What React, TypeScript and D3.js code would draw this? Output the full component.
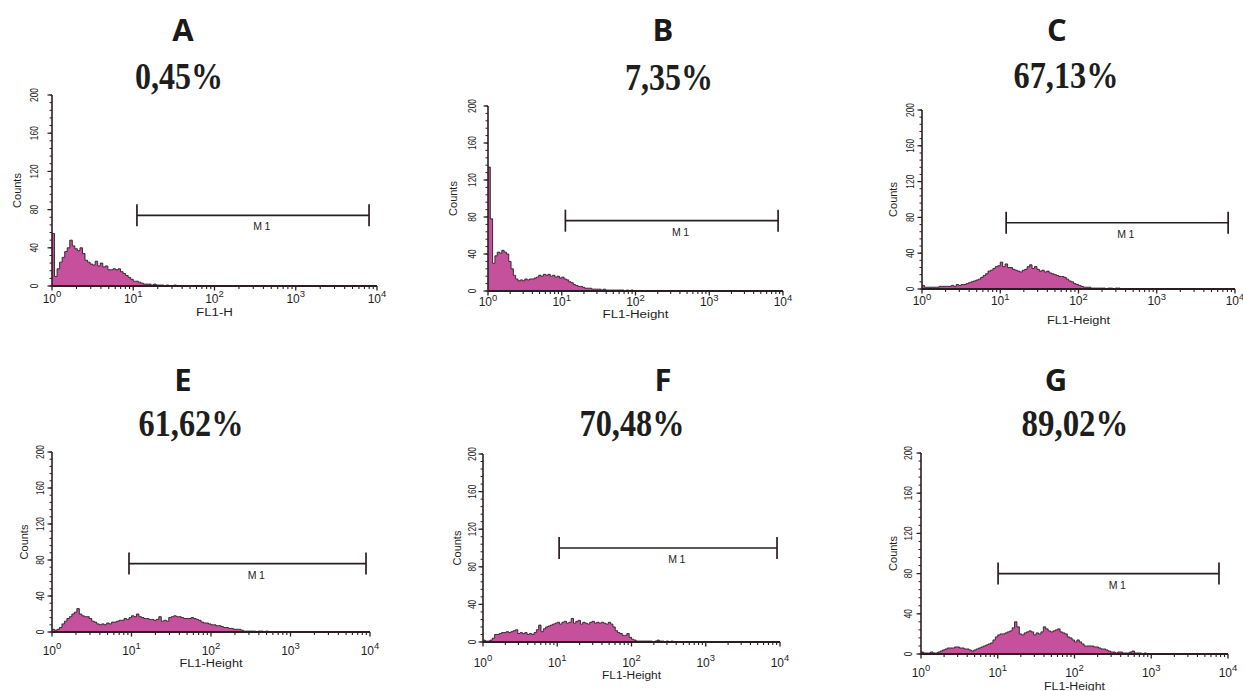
import React from 'react';
import * as d3 from 'd3';

// panel identity
const panelLetters = ['A', 'B', 'C', 'E', 'F', 'G'];
const percentLabels = ['0,45%', '7,35%', '67,13%', '61,62%', '70,48%', '89,02%'];
const xAxisLabels = ['FL1-H', 'FL1-Height', 'FL1-Height', 'FL1-Height', 'FL1-Height', 'FL1-Height'];

// axes
const yTicks = [0, 40, 80, 120, 160, 200];
const xTicks = [1, 10, 100, 1000, 10000];

// M1 gate (FL1 start, FL1 end, count level)
const gateStart = [11.1, 11.2, 11.9, 9.3, 10.6, 10.1];
const gateEnd = [7980, 8580, 8170, 8910, 9120, 7630];
const gateLevel = [74, 76, 74, 76, 100, 80];

// histogram counts, 32 channels per decade starting at 10^0
const countsA = [55, 10, 18, 25, 30, 36, 40, 48, 42, 39, 37, 40, 34, 27, 25, 23, 22, 26, 21, 24, 20, 21, 17, 17, 18, 17, 18, 15, 13, 11, 9, 7, 5, 5, 4, 3, 2, 2, 2, 1, 2, 1, 1, 1, 0, 1, 0, 0, 1];
const countsB = [134, 78, 30, 38, 42, 41, 44, 42, 40, 32, 24, 17, 13, 11, 12, 11, 13, 12, 13, 13, 14, 15, 17, 16, 18, 17, 18, 16, 17, 15, 16, 14, 15, 13, 12, 10, 9, 7, 6, 5, 5, 4, 3, 3, 3, 2, 2, 2, 2, 1, 2, 1, 1, 1, 1, 1, 1, 1, 1, 0, 1, 0, 1];
const countsC = [4, 2, 2, 2, 2, 2, 2, 3, 3, 3, 3, 3, 4, 3, 5, 4, 5, 5, 6, 7, 8, 9, 10, 11, 13, 15, 17, 20, 21, 23, 25, 26, 30, 25, 28, 24, 24, 22, 21, 20, 19, 21, 22, 25, 27, 23, 25, 22, 20, 21, 19, 20, 18, 17, 16, 15, 14, 14, 13, 11, 9, 8, 6, 5, 4, 3, 2, 2, 2, 1, 1, 1, 1, 1, 1, 0, 1, 1, 0, 1, 1];
const countsE = [3, 2, 3, 5, 9, 12, 15, 17, 20, 22, 26, 20, 18, 17, 17, 15, 12, 11, 9, 8, 9, 8, 10, 9, 11, 11, 12, 13, 13, 15, 14, 16, 18, 17, 20, 17, 16, 15, 15, 14, 14, 13, 14, 17, 12, 13, 12, 16, 17, 18, 17, 17, 16, 15, 15, 15, 16, 15, 14, 13, 11, 10, 10, 9, 8, 8, 7, 7, 6, 5, 5, 4, 4, 3, 3, 3, 2, 1, 1, 1, 1, 1, 0, 1, 1, 0, 1];
const countsF = [2, 1, 1, 2, 4, 8, 8, 9, 10, 10, 11, 10, 11, 12, 13, 9, 10, 9, 10, 8, 9, 8, 10, 13, 18, 11, 14, 16, 17, 18, 19, 20, 21, 19, 21, 22, 20, 21, 25, 20, 22, 23, 19, 21, 20, 19, 21, 22, 20, 21, 20, 21, 20, 19, 21, 19, 16, 12, 10, 9, 7, 7, 9, 5, 3, 2, 1, 1, 1, 1, 1, 1, 1, 0, 1, 2, 1, 1, 0, 1, 0, 1];
const countsG = [2, 1, 1, 1, 2, 1, 1, 2, 3, 4, 5, 6, 6, 6, 7, 7, 6, 6, 5, 5, 4, 3, 4, 5, 6, 7, 8, 9, 10, 11, 14, 17, 19, 20, 20, 21, 22, 23, 26, 32, 27, 20, 19, 21, 22, 23, 22, 19, 21, 20, 22, 27, 25, 23, 22, 23, 24, 25, 22, 21, 20, 17, 16, 14, 12, 14, 12, 10, 8, 8, 8, 8, 7, 7, 6, 5, 5, 4, 3, 2, 2, 1, 2, 2, 1, 1, 1, 2, 3, 1, 1, 1, 0, 1];
const series = [countsA, countsB, countsC, countsE, countsF, countsG];

const CH_PER_DECADE = 32;
const chan = (i: number) => Math.pow(10, i / CH_PER_DECADE);

// where each panel sits on the page
const layout = [
  { x0: 52, x1: 377, yTop: 95, yZero: 286, lx: 183, ly: 41, px: 179, py: 89, pl: 88, tickY: 302.5, labY: 315.5, labLen: 37, cOff: 35, tOff: 18 },
  { x0: 488, x1: 783, yTop: 106, yZero: 291, lx: 663, ly: 41, px: 669, py: 90, pl: 88, tickY: 306, labY: 318, labLen: 66, cOff: 35, tOff: 16 },
  { x0: 922, x1: 1235, yTop: 110, yZero: 289, lx: 1057, ly: 41, px: 1066, py: 88, pl: 105, tickY: 305, labY: 324, labLen: 63, cOff: 29, tOff: 12 },
  { x0: 52, x1: 370, yTop: 452, yZero: 632, lx: 183, ly: 391, px: 191, py: 436, pl: 105, tickY: 654.5, labY: 666.5, labLen: 63, cOff: 28, tOff: 12 },
  { x0: 483, x1: 780, yTop: 454, yZero: 642, lx: 663, ly: 391, px: 632, py: 436, pl: 105, tickY: 666.5, labY: 678.5, labLen: 59, cOff: 26, tOff: 11 },
  { x0: 921, x1: 1228, yTop: 453, yZero: 654, lx: 1056, ly: 391, px: 1075, py: 436, pl: 107, tickY: 676.5, labY: 689.5, labLen: 61, cOff: 28, tOff: 13 },
];

const ink = '#2a1e22';
const fillPink = '#c5509b';
const sans = "'Liberation Sans', Arial, sans-serif";

function Panel({ idx }: { idx: number }) {
  const p = layout[idx];
  const x = d3.scaleLog().domain([1, 1e4]).range([p.x0, p.x1]);
  const y = d3.scaleLinear().domain([0, 200]).range([p.yZero, p.yTop]);
  const vals = series[idx];
  const pts: [number, number][] = vals.map((v, k) => [chan(k), v] as [number, number]);
  pts.push([chan(vals.length), 0]);

  const area = d3.area<[number, number]>()
    .x(d => x(d[0])).y0(y(0)).y1(d => y(d[1]))
    .curve(d3.curveStepAfter);
  const line = d3.line<[number, number]>()
    .x(d => x(d[0])).y(d => y(d[1]))
    .curve(d3.curveStepAfter);

  const minorX: number[] = [];
  [1, 10, 100, 1000].forEach(dec => {
    for (let m = 2; m <= 9; m++) minorX.push(m * dec);
  });
  const minorY = d3.range(0, 201, 8);

  const g0 = x(gateStart[idx]);
  const g1 = x(gateEnd[idx]);
  const gy = y(gateLevel[idx]);
  const midY = (p.yTop + p.yZero) / 2;

  return (
    <g>
      <text x={p.lx} y={p.ly} textAnchor="middle" fontFamily="'Open Sans', sans-serif" fontWeight={700} fontSize={31} fill="#1a1a1a">
        {panelLetters[idx]}
      </text>
      <text x={p.px} y={p.py} textAnchor="middle" fontFamily="'Liberation Serif', serif" fontWeight={700} fontSize={37}
        textLength={p.pl} lengthAdjust="spacingAndGlyphs" fill="#1e1e1e">
        {percentLabels[idx]}
      </text>

      <path d={area(pts) || ''} fill={fillPink} />
      <path d={line(pts) || ''} fill="none" stroke={ink} strokeWidth={0.9} />

      {/* y axis */}
      <line x1={p.x0} x2={p.x0} y1={p.yTop} y2={p.yZero} stroke={ink} strokeWidth={1.6} />
      {minorY.map(t => (
        <line key={'my' + t} x1={p.x0 - 2.5} x2={p.x0} y1={y(t)} y2={y(t)} stroke={ink} strokeWidth={1} />
      ))}
      {yTicks.map(t => (
        <g key={'y' + t}>
          <line x1={p.x0 - 4.5} x2={p.x0} y1={y(t)} y2={y(t)} stroke={ink} strokeWidth={1.2} />
          <text transform={`translate(${p.x0 - p.tOff},${y(t)}) rotate(-90)`} dy="0.36em" textAnchor="middle"
            fontFamily={sans} fontSize={11.5}
            textLength={String(t).length * 4.7} lengthAdjust="spacingAndGlyphs" fill="#1e1e1e">
            {t}
          </text>
        </g>
      ))}
      <text transform={`translate(${p.x0 - p.cOff},${midY}) rotate(-90)`} dy="0.35em" textAnchor="middle"
        fontFamily={sans} fontSize={11} fill="#1e1e1e">
        Counts
      </text>

      {/* x axis */}
      <line x1={p.x0} x2={p.x1} y1={p.yZero} y2={p.yZero} stroke={ink} strokeWidth={2} />
      {minorX.map(t => (
        <line key={'mx' + t} x1={x(t)} x2={x(t)} y1={p.yZero} y2={p.yZero + 3} stroke={ink} strokeWidth={1.1} />
      ))}
      {xTicks.map(t => (
        <g key={'x' + t}>
          <line x1={x(t)} x2={x(t)} y1={p.yZero} y2={p.yZero + 4.5} stroke={ink} strokeWidth={1.3} />
          <text x={x(t)} y={p.tickY} textAnchor="middle" fontFamily={sans} fontSize={12} fill="#1e1e1e">
            10<tspan fontSize={9.5} dy={-5.5}>{Math.round(Math.log10(t))}</tspan>
          </text>
        </g>
      ))}
      <text x={(p.x0 + p.x1) / 2} y={p.labY} textAnchor="middle" fontFamily={sans} fontSize={10}
        textLength={p.labLen} lengthAdjust="spacingAndGlyphs" fill="#1e1e1e">
        {xAxisLabels[idx]}
      </text>

      {/* M1 gate */}
      <line x1={g0} x2={g1} y1={gy} y2={gy} stroke={ink} strokeWidth={1.7} />
      <line x1={g0} x2={g0} y1={gy - 11} y2={gy + 11} stroke={ink} strokeWidth={1.7} />
      <line x1={g1} x2={g1} y1={gy - 11} y2={gy + 11} stroke={ink} strokeWidth={1.7} />
      <text x={(g0 + g1) / 2 + 10} y={gy + 15} textAnchor="middle" fontFamily={sans}
        fontSize={10.5} letterSpacing={2.5} fill="#1e1e1e">
        M1
      </text>
    </g>
  );
}

export default function App() {
  return (
    <svg width={1243} height={691} style={{ position: 'absolute', left: 0, top: 0, background: '#fff' }}>
      {layout.map((_, i) => <Panel key={i} idx={i} />)}
    </svg>
  );
}
